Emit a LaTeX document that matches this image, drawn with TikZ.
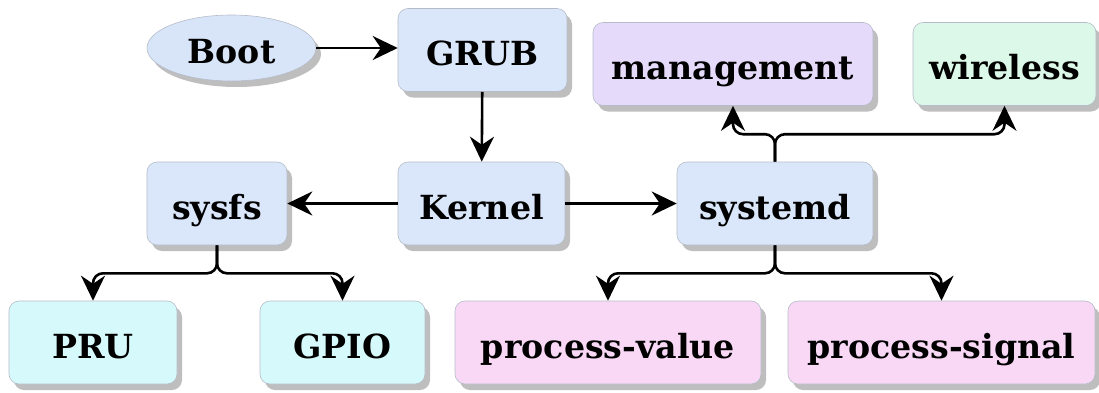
\documentclass[tikz,border=0pt]{standalone}
\usepackage{fontspec}
\setmainfont{DejaVu Serif}
\usetikzlibrary{arrows.meta,shapes.geometric,shadows}

\definecolor{bootfill}{HTML}{D8E5F8}
\definecolor{corefill}{HTML}{DAE7FA}
\definecolor{mgmtfill}{HTML}{E6DAFA}
\definecolor{wififill}{HTML}{DCF8E8}
\definecolor{hwfill}{HTML}{D6FAFB}
\definecolor{procfill}{HTML}{F9D8F6}
\definecolor{edgegray}{HTML}{B4BCC8}
\definecolor{shadowgray}{HTML}{BEBEBE}

\tikzset{
  shade box/.style={drop shadow={shadow xshift=2.5pt, shadow yshift=-3pt,
      fill=shadowgray, opacity=1}},
  label font/.style={font=\fontsize{16.6}{19}\selectfont\bfseries, text=black,
      text height=15.5pt, text depth=0pt},
  stagebox/.style={rectangle, rounded corners=5pt, draw=edgegray,
      line width=0.3pt, minimum height=41.5pt, inner sep=0pt,
      label font, shade box},
  startoval/.style={ellipse, draw=edgegray, line width=0.3pt, fill=bootfill,
      minimum width=84.5pt, minimum height=33pt, inner sep=0pt,
      label font, shade box},
  flow/.style={-{Stealth[length=12.5pt,width=12pt]}, line width=1.3pt},
  fork/.style={flow, rounded corners=5pt},
}

\begin{document}
\begin{tikzpicture}[x=0.5pt,y=-0.5pt]
  \useasboundingbox (0,0) rectangle (1099,392);

  % boot chain
  \node[startoval] (boot) at (231.5,48) {Boot};
  \node[stagebox, fill=corefill, minimum width=84.5pt] (grub) at (482.5,50) {GRUB};
  \node[stagebox, fill=corefill, minimum width=83.5pt] (kernel) at (481.5,203.5) {Kernel};

  % kernel consumers
  \node[stagebox, fill=corefill, minimum width=70pt] (sysfs) at (217,203.5) {sysfs};
  \node[stagebox, fill=corefill, minimum width=98pt] (systemd) at (775,203.5) {systemd};

  % systemd units
  \node[stagebox, fill=mgmtfill, minimum width=140pt] (mgmt) at (733,64) {management};
  \node[stagebox, fill=wififill, minimum width=91.5pt] (wifi) at (1004.5,64) {wireless};
  \node[stagebox, fill=procfill, minimum width=153pt] (pvalue) at (608,342.5) {process-value};
  \node[stagebox, fill=procfill, minimum width=153.5pt] (psignal) at (941.5,342.5) {process-signal};

  % hardware interfaces
  \node[stagebox, fill=hwfill, minimum width=84pt] (pru) at (93,342.5) {PRU};
  \node[stagebox, fill=hwfill, minimum width=82.5pt] (gpio) at (342.5,342.5) {GPIO};

  % straight links
  \draw[flow] (boot.east) -- (boot.east -| grub.west);
  \draw[flow] (grub) -- (kernel);
  \draw[flow] (kernel) -- (sysfs);
  \draw[flow] (kernel) -- (systemd);

  % forks
  \draw[fork] (sysfs.south) -- ++(0,28) -| (pru.north);
  \draw[fork] (sysfs.south) -- ++(0,28) -| (gpio.north);
  \draw[fork] (systemd.south) -- ++(0,28) -| (pvalue.north);
  \draw[fork] (systemd.south) -- ++(0,28) -| (psignal.north);
  \draw[fork] (systemd.north) -- ++(0,-27.5) -| (mgmt.south);
  \draw[fork] (systemd.north) -- ++(0,-27.5) -| (wifi.south);
\end{tikzpicture}
\end{document}
